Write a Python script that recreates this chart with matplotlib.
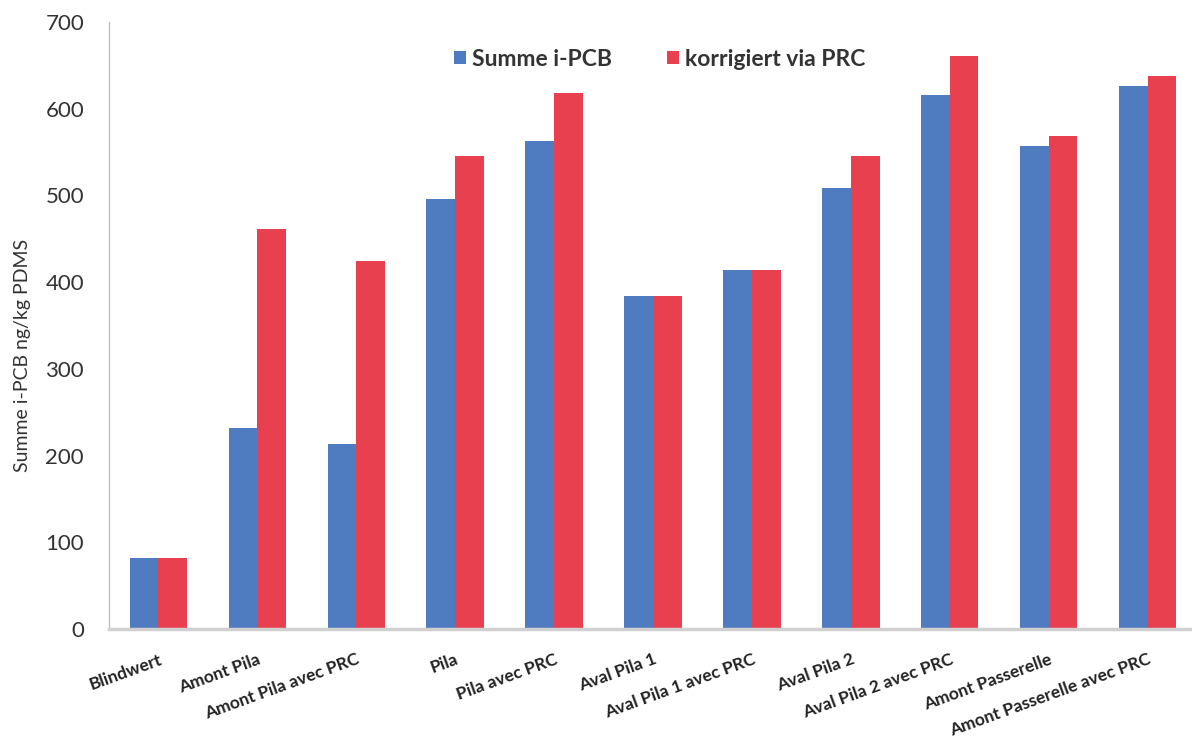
import matplotlib
matplotlib.use("Agg")
import matplotlib.pyplot as plt
import numpy as np

categories = ["Blindwert", "Amont Pila", "Amont Pila avec PRC", "Pila", "Pila avec PRC",
              "Aval Pila 1", "Aval Pila 1 avec PRC", "Aval Pila 2", "Aval Pila 2 avec PRC",
              "Amont Passerelle", "Amont Passerelle avec PRC"]
summe_ipcb = [82, 232, 213, 496, 563, 384, 414, 509, 616, 557, 626]
korrigiert_prc = [82, 461, 424, 546, 618, 384, 414, 546, 661, 568, 638]
series_names = ["Summe i-PCB", "korrigiert via PRC"]
y_ticks = [0, 100, 200, 300, 400, 500, 600, 700]
y_label = "Summe i-PCB ng/kg PDMS"

plt.rcParams['font.family'] = ['Lato', 'DejaVu Sans']

fig = plt.figure(figsize=(11.92, 7.47), dpi=100)
ax = fig.add_axes([109/1192, 118/747, 1088/1192, 607/747])

x = np.arange(len(categories))
w = 0.29
c_blue = "#4F7CC0"
c_red = "#E8404F"
ax.bar(x - w/2, summe_ipcb, width=w, color=c_blue, label=series_names[0], zorder=2)
ax.bar(x + w/2, korrigiert_prc, width=w, color=c_red, label=series_names[1], zorder=2)

ax.set_xlim(-0.5, len(categories) - 0.5)
ax.set_ylim(0, 700)
ax.set_yticks(y_ticks)
ax.set_yticklabels([str(v) for v in y_ticks], fontsize=16, color="#333333")
ax.set_xticks(x)
ax.set_xticklabels(categories, rotation=20, ha='right', va='top', rotation_mode='anchor',
                   fontsize=12.5, fontweight='bold', color="#222222")
ax.tick_params(axis='both', length=0)
ax.tick_params(axis='y', pad=18)
ax.tick_params(axis='x', pad=16)

for s in ['top', 'right']:
    ax.spines[s].set_visible(False)
ax.spines['left'].set_color("#BFBFBF")
ax.spines['left'].set_linewidth(1.0)
ax.spines['bottom'].set_color("#D0D0D0")
ax.spines['bottom'].set_linewidth(2.5)

ax.set_ylabel(y_label, fontsize=14, color="#333333")
ax.yaxis.set_label_coords(-0.072, 0.45)

leg = ax.legend(loc='center', bbox_to_anchor=(0.506, 0.939), ncol=2, frameon=False,
                fontsize=16.5, handlelength=0.55, handleheight=0.55, columnspacing=2.4,
                handletextpad=0.25)
for t in leg.get_texts():
    t.set_fontweight('bold')
    t.set_color("#333333")

fig.savefig("out.png", dpi=100)
